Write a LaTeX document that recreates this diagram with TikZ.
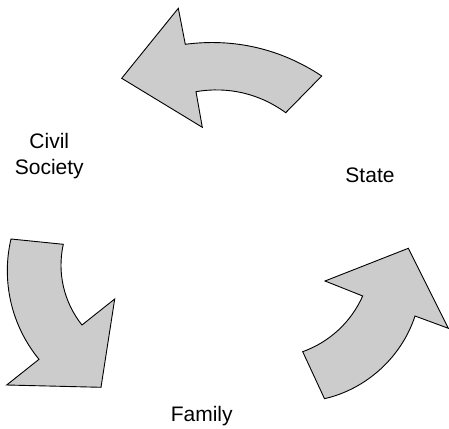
\documentclass[tikz,border=0pt]{standalone}
\usepackage{fontspec}
\setmainfont{Liberation Sans}
\definecolor{arrowgray}{HTML}{CCCCCC}

\begin{document}
\begin{tikzpicture}[x=1pt, y=1pt,
    cyclearrow/.style={fill=arrowgray, draw=black, line width=0.9pt, line join=miter, looseness=0.9},
    cyclelabel/.style={font=\fontsize{21}{26}\selectfont, align=center, inner sep=0pt}]
  \useasboundingbox (0,0) rectangle (449,428);
  % labels
  \node[cyclelabel, anchor=base] (civil) at (49.3,253.7) {Civil\\Society};
  \node[cyclelabel, anchor=base] (state) at (370,245.3) {State};
  \node[cyclelabel, anchor=base] (family) at (201.7,6.3) {Family};
  % arrow from state to civil society (top)
  \draw[cyclearrow] (321.7,352) to[bend right=20.5] (185.3,383.7) -- (178.3,419.7) -- (121.7,349.7)
    -- (202.3,300.7) -- (196,336.3) to[bend left=23] (285.7,315.3) -- cycle;
  % arrow from civil society to family (left)
  \draw[cyclearrow] (11,189) -- (63.3,183.7) to[bend right=25.6] (82,103) -- (114.7,129) -- (101,40.7)
    -- (6.7,43) -- (39,68.7) to[bend left=26.3] cycle;
  % arrow from family to state (right)
  \draw[cyclearrow] (324.5,29.3) -- (302.7,76.3) to[bend right=22.9] (362.7,132) -- (325,147) -- (408.3,179.7)
    -- (448.3,99.7) -- (415,112) to[bend left=29.5] cycle;
\end{tikzpicture}
\end{document}
